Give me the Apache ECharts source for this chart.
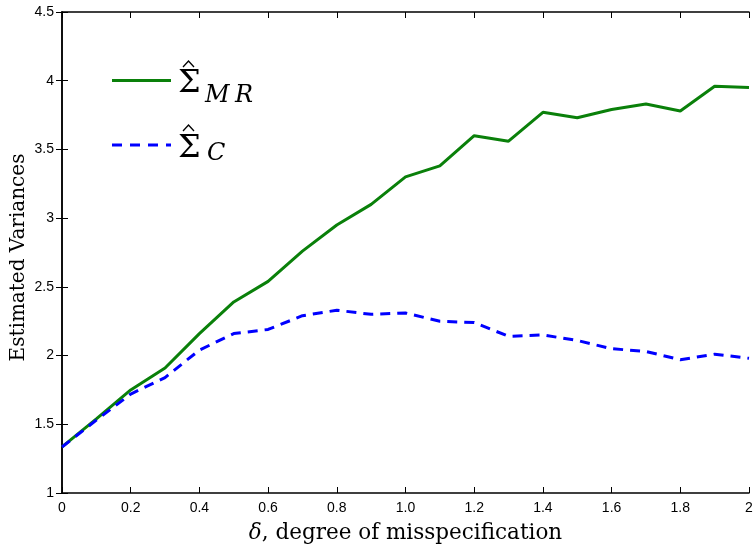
<!DOCTYPE html>
<html lang="en">
<head>
    <meta charset="UTF-8">
    <title>Estimated Variances</title>
    <script src="https://cdn.jsdelivr.net/npm/echarts@6/dist/echarts.min.js"></script>
</head>
<body style="margin:0">
    <div id="main" style="width: 753px;height:548px;"></div>
    <script type="text/javascript">
        // data
        var delta = [0, 0.1, 0.2, 0.3, 0.4, 0.5, 0.6, 0.7, 0.8, 0.9, 1.0, 1.1, 1.2, 1.3, 1.4, 1.5, 1.6, 1.7, 1.8, 1.9, 2.0];
        var sigmaMR = [1.335, 1.54, 1.75, 1.91, 2.16, 2.39, 2.54, 2.76, 2.95, 3.10, 3.30, 3.38, 3.60, 3.56, 3.77, 3.73, 3.79, 3.83, 3.78, 3.96, 3.95];
        var sigmaC = [1.335, 1.53, 1.72, 1.84, 2.04, 2.16, 2.19, 2.29, 2.33, 2.30, 2.31, 2.25, 2.24, 2.14, 2.15, 2.11, 2.05, 2.03, 1.97, 2.01, 1.98];
        var xTicks = ['0', '0.2', '0.4', '0.6', '0.8', '1.0', '1.2', '1.4', '1.6', '1.8', '2'];

        var GREEN = '#0a800a', BLUE = '#0000ff';

        var myChart = echarts.init(document.getElementById('main'));

        function pairs(ys) {
            return delta.map(function (x, i) { return [x, ys[i]]; });
        }

        var tickStyle = { show: true, inside: true, length: 6, lineStyle: { color: '#000', width: 1 } };
        var lineAx = { show: true, lineStyle: { color: '#000', width: 1.5 } };

        function txt(x, y, s, font) {
            return {
                type: 'text', x: x, y: y,
                style: { text: s, font: font, fill: '#000', textVerticalAlign: 'middle' }
            };
        }

        // legend drawn by hand: line sample + sigma with hat + subscript
        function legendEntry(y, color, dash, sigY, hatY, subY, subs) {
            var els = [{
                type: 'line',
                shape: { x1: 112, y1: y, x2: 171, y2: y },
                style: { stroke: color, lineWidth: 3, lineDash: dash }
            },
            txt(178, sigY, '\u03A3', '32px "DejaVu Serif"'),
            {
                type: 'polyline',
                shape: { points: [[183, hatY + 6], [188.5, hatY], [194, hatY + 6]] },
                style: { stroke: '#000', lineWidth: 1.3, fill: null }
            }];
            subs.forEach(function (s) {
                els.push(txt(s[0], subY, s[1], 'italic 24px "DejaVu Serif"'));
            });
            return els;
        }

        var option = {
            animation: false,
            backgroundColor: '#fff',
            grid: { left: 62, right: 4, top: 12, bottom: 55, outerBoundsMode: 'none' },
            graphic: legendEntry(80.5, GREEN, null, 84, 61, 95.5, [[205, 'M'], [235, 'R']])
                .concat(legendEntry(145, BLUE, [10, 8], 148.5, 125, 154, [[207, 'C']])),
            xAxis: [{
                type: 'value',
                min: 0, max: 2, interval: 0.2,
                name: '{d|\u03B4}, degree of misspecification',
                nameLocation: 'middle',
                nameGap: 29,
                nameMoveOverlap: false,
                nameTextStyle: {
                    fontFamily: 'DejaVu Serif', fontSize: 21.5, color: '#000',
                    rich: { d: { fontFamily: 'DejaVu Serif', fontStyle: 'italic', fontSize: 21.5, color: '#000' } }
                },
                axisLine: lineAx,
                axisTick: tickStyle,
                splitLine: { show: false },
                axisLabel: {
                    color: '#000', fontFamily: 'Liberation Sans', fontSize: 14, margin: 8,
                    formatter: function (v) { return xTicks[Math.round(v / 0.2)]; }
                }
            }, {
                type: 'value', position: 'top',
                min: 0, max: 2, interval: 0.2,
                axisLine: lineAx, axisTick: tickStyle,
                axisLabel: { show: false }, splitLine: { show: false }
            }],
            yAxis: [{
                type: 'value',
                min: 1, max: 4.5, interval: 0.5,
                name: 'Estimated Variances',
                nameLocation: 'middle',
                nameGap: 33,
                nameMoveOverlap: false,
                nameTextStyle: { fontFamily: 'DejaVu Serif', fontSize: 20, color: '#000', padding: [0, 10, 0, 0] },
                axisLine: lineAx,
                axisTick: tickStyle,
                splitLine: { show: false },
                axisLabel: { color: '#000', fontFamily: 'Liberation Sans', fontSize: 14, margin: 8 }
            }, {
                type: 'value', position: 'right',
                min: 1, max: 4.5, interval: 0.5,
                axisLine: lineAx, axisTick: tickStyle,
                axisLabel: { show: false }, splitLine: { show: false }
            }],
            series: [{
                name: 'MR',
                type: 'line',
                data: pairs(sigmaMR),
                symbol: 'none',
                lineStyle: { color: GREEN, width: 3 }
            }, {
                name: 'C',
                type: 'line',
                data: pairs(sigmaC),
                symbol: 'none',
                lineStyle: { color: BLUE, width: 3, type: [10, 7] }
            }]
        };

        myChart.setOption(option);
    </script>
</body>
</html>
